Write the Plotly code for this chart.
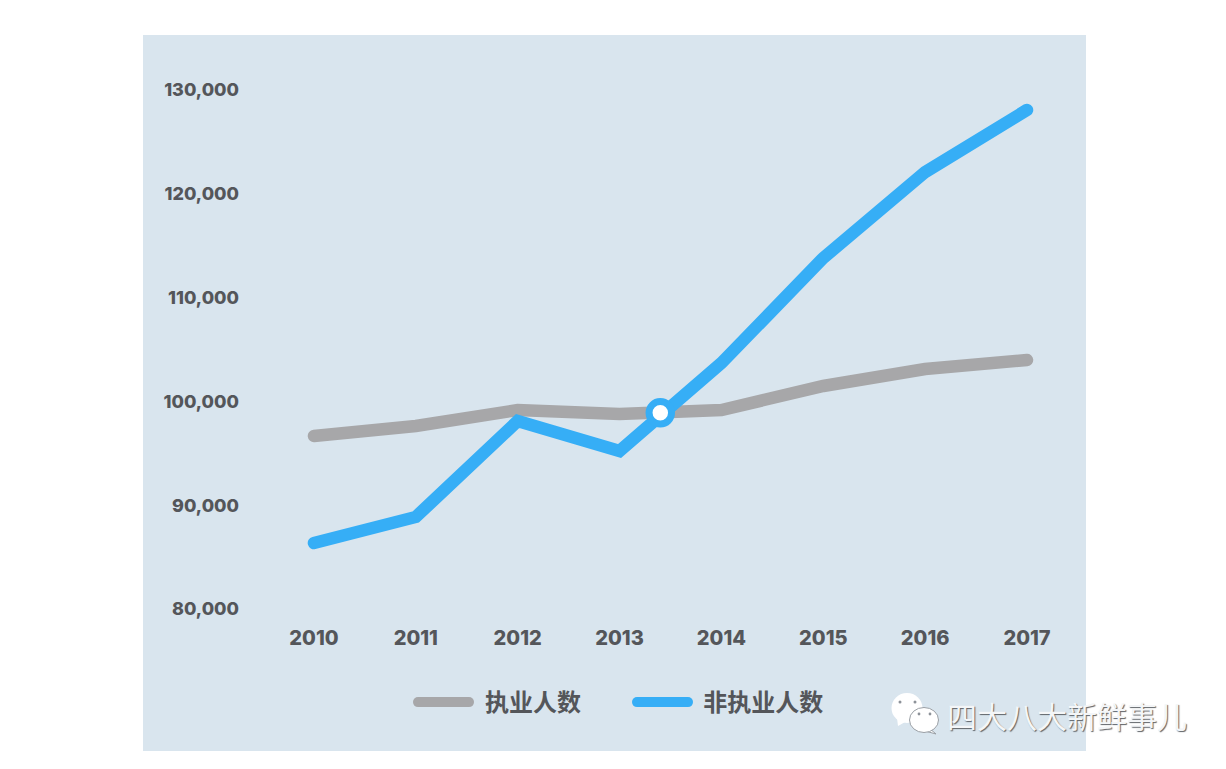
import plotly.graph_objects as go

years = [2010, 2011, 2012, 2013, 2014, 2015, 2016, 2017]
employed = [96570, 97530, 99075, 98690, 99075, 101390, 103025, 103890]
non_employed = [86260, 88770, 98015, 95125, 103600, 113720, 122000, 127980]
y_ticks = [80000, 90000, 100000, 110000, 120000, 130000]
cross_x = [2013.4]
cross_y = [98800]
names = ["\u00a0\u00a0执业人数", "\u00a0\u2009非执业人数"]
watermark = "四大八大新鲜事儿"

W, H = 1226, 769
L, R, T, B = 246, 1086, 35, 622
def px(v): return (v - L) / (R - L)
def py(v): return (B - v) / (B - T)

GREY = "#a7a7a9"
BLUE = "#36aef6"
PANEL = "#d9e5ee"
TEXT = "#54565a"

fig = go.Figure()
fig.add_trace(go.Scatter(x=years, y=employed, mode="lines", name=names[0],
                         line=dict(color=GREY, width=12.5)))
fig.add_trace(go.Scatter(x=years, y=non_employed, mode="lines", name=names[1],
                         line=dict(color=BLUE, width=12.5)))
fig.add_trace(go.Scatter(x=cross_x, y=cross_y, mode="markers", showlegend=False,
                         marker=dict(size=22.5, color="white", line=dict(color=BLUE, width=7))))

def ell(cx, cy, rx, ry, **kw):
    return dict(type="circle", xref="paper", yref="paper", x0=px(cx-rx), x1=px(cx+rx),
                y0=py(cy+ry), y1=py(cy-ry), **kw)

def poly(points, **kw):
    d = "M " + " L ".join(f"{px(a):.5f},{py(b):.5f}" for a, b in points) + " Z"
    return dict(type="path", xref="paper", yref="paper", path=d, **kw)

icon_line = dict(color="#9a9fa5", width=1)
shapes = [
    dict(type="rect", xref="paper", yref="paper", x0=px(143), x1=px(1086), y0=py(751), y1=py(35),
         fillcolor=PANEL, line=dict(width=0), layer="below"),
    poly([(897, 718), (898, 726), (907, 721)], fillcolor="white", line=dict(width=0)),
    ell(907, 708, 15.5, 15, fillcolor="white", line=dict(width=0)),
    ell(900, 702, 1.5, 1.5, fillcolor="#8d9299", line=dict(width=0)),
    ell(915, 702, 1.5, 1.5, fillcolor="#8d9299", line=dict(width=0)),
    poly([(929, 728), (936, 734), (925, 731)], fillcolor="white", line=icon_line),
    ell(924, 720, 14.5, 12.5, fillcolor="white", line=icon_line),
    ell(919, 714, 1.4, 1.4, fillcolor="#8d9299", line=dict(width=0)),
    ell(930, 714, 1.4, 1.4, fillcolor="#8d9299", line=dict(width=0)),
]

fig.update_layout(
    width=W, height=H,
    margin=dict(l=L, r=W-R, t=T, b=H-B, autoexpand=False),
    paper_bgcolor="white", plot_bgcolor="rgba(0,0,0,0)",
    font=dict(family="Inter, 'Noto Sans CJK SC'", color=TEXT),
    xaxis=dict(range=[2009.333, 2017.579], tickmode="array", tickvals=years,
               ticktext=[str(v) for v in years], showgrid=False, zeroline=False, showline=False,
               ticks="", ticklabelstandoff=2,
               tickfont=dict(size=20, weight=800, family="Inter", color=TEXT)),
    yaxis=dict(range=[78651, 135202], tickmode="array", tickvals=y_ticks,
               ticktext=[f"{v:,}" for v in y_ticks], showgrid=False, zeroline=False, showline=False,
               ticks="", ticklabelstandoff=6, ticklabelshift=1,
               tickfont=dict(size=18, weight=800, family="Inter", color=TEXT)),
    legend=dict(orientation="h", x=px(413), y=py(680), xanchor="left", yanchor="top",
                itemwidth=51, entrywidth=153, entrywidthmode="pixels", bgcolor="rgba(0,0,0,0)",
                font=dict(size=24, weight=700, family="'Noto Sans CJK SC'", color=TEXT)),
    shapes=shapes,
    annotations=[dict(text=watermark, xref="paper", yref="paper", x=px(1067), y=py(715),
                      xanchor="center", yanchor="middle", showarrow=False,
                      font=dict(size=30, family="'Noto Sans CJK SC'", color="#f4f6f8",
                                shadow="1px 1px 1px #5f6368"))],
)
post = """
document.body.style.margin = '0';
var s = document.createElement('style');
s.textContent = '.js-line, .legendlines path {stroke-linecap: round !important;}';
document.head.appendChild(s);
"""
fig.write_html("out.html", post_script=post, config=dict(displayModeBar=False))
